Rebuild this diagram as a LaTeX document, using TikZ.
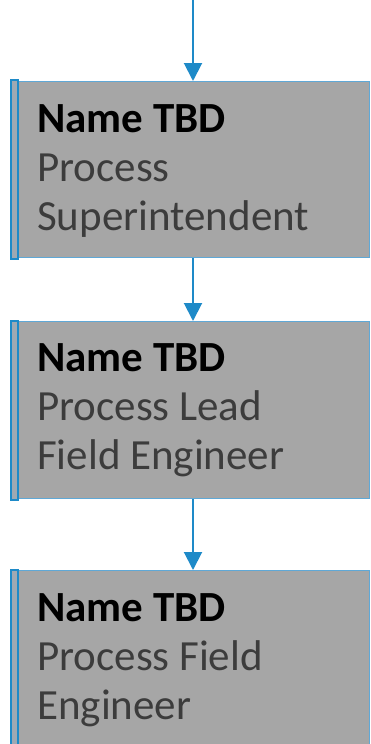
\documentclass[tikz,border=0pt]{standalone}
\usepackage{fontspec}
\setmainfont{Carlito}
\usetikzlibrary{arrows.meta}
\definecolor{boxgray}{HTML}{A6A6A6}
\definecolor{linkblue}{HTML}{1E8AC8}
\definecolor{edgeblue}{HTML}{5FA8D6}
\definecolor{bargray}{HTML}{9FA9B3}
\definecolor{rolegray}{HTML}{3C3C3C}
\tikzset{
  rolebox/.style={draw=edgeblue, line width=1pt, fill=boxgray, rectangle, inner sep=0pt, anchor=north west, minimum width=359pt},
  accentbar/.style={draw=linkblue, line width=1.6pt, fill=bargray, rectangle, inner sep=0pt, anchor=north west, minimum width=7pt},
  roletext/.style={anchor=north west, align=left, inner sep=0pt, font=\fontsize{43}{49}\selectfont, text=rolegray},
  link/.style={draw=linkblue, line width=2pt, -{Triangle[length=18pt,width=18pt]}}
}
\begin{document}
\begin{tikzpicture}[x=1pt,y=-1pt]
\useasboundingbox (0,0) rectangle (371,744);
\clip (0,0) rectangle (371,744);
\fill[white] (0,0) rectangle (371,744);
% boxes
\node[rolebox, minimum height=176pt] (b1) at (10,81) {};
\node[rolebox, minimum height=177pt] (b2) at (10,321) {};
\node[rolebox, minimum height=190pt] (b3) at (10,570) {};
% accent bars
\node[accentbar, minimum height=179pt] (a1) at (10,79) {};
\node[accentbar, minimum height=179pt] (a2) at (10,320) {};
\node[accentbar, minimum height=190pt] (a3) at (10,569) {};
% texts
\node[roletext] (t1) at (37,104) {\textcolor{black}{\textbf{Name TBD}}\\Process\\Superintendent};
\node[roletext] (t2) at (37,343) {\textcolor{black}{\textbf{Name TBD}}\\Process Lead\\Field Engineer};
\node[roletext] (t3) at (37,593) {\textcolor{black}{\textbf{Name TBD}}\\Process Field\\Engineer};
% connectors
\coordinate (top) at (193,0);
\draw[link] (top) -- (top |- b1.north);
\draw[link] (b1.south -| top) -- (top |- b2.north);
\draw[link] (b2.south -| top) -- (top |- b3.north);
\end{tikzpicture}
\end{document}
